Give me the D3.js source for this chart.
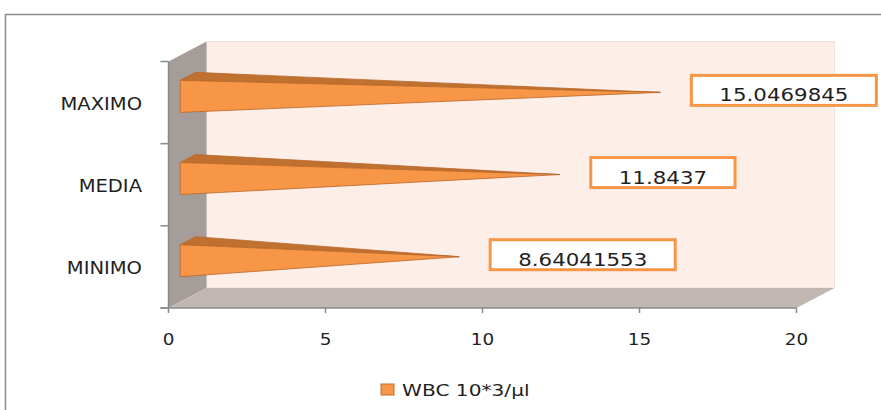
<!DOCTYPE html>
<html>
<head>
<meta charset="utf-8">
<script src="https://cdn.jsdelivr.net/npm/d3@7/dist/d3.min.js"></script>
<style>
  html, body { margin: 0; padding: 0; background: #fff; }
  svg { display: block; }
  text { font-family: "DejaVu Sans", sans-serif; fill: #1f1f1f; }
</style>
</head>
<body>
<svg id="chart" width="881" height="410"></svg>
<script>
// WBC 10*3/µl summary values
const categories = ["MINIMO", "MEDIA", "MAXIMO"];
const values = [8.64041553, 11.8437, 15.0469845];
const valueLabels = ["8.64041553", "11.8437", "15.0469845"];
const xTicks = [0, 5, 10, 15, 20];
const seriesName = "WBC 10*3/\u00b5l";

(function () {
const svg = d3.select("#chart");

// plot box (front plane) and oblique depth offset of the 3D walls
const plotLeft = 168.5, plotRight = 796.5, plotTop = 61.5, plotBottom = 308;
const depthX = 38, depthY = 20;

const x = d3.scaleLinear().domain([0, 20]).range([plotLeft, plotRight]);
const y = d3.scaleBand().domain(categories).range([plotBottom, plotTop]);

// project a point given value, front-plane y and depth fraction (0 = front, 1 = back)
const P = (v, fy, d) => [x(v) + d * depthX, fy - d * depthY];

const orange = "#f79646", orangeDark = "#c0712f", orangeEdge = "#b9672a";

// chart frame
svg.append("rect")
  .attr("x", 5.5).attr("y", 14.5).attr("width", 900).attr("height", 420)
  .attr("fill", "#fff").attr("stroke", "#8c8c8c").attr("stroke-width", 1.5);

// back wall
const bw = [P(0, plotTop, 1), P(20, plotTop, 1), P(20, plotBottom, 1), P(0, plotBottom, 1)];
svg.append("polygon").attr("points", bw.join(" "))
  .attr("fill", "#fdeee8").attr("stroke", "#e6dcd8").attr("stroke-width", 0.8);

// side wall
const sw = [P(0, plotTop, 0), P(0, plotTop, 1), P(0, plotBottom, 1), P(0, plotBottom, 0)];
svg.append("polygon").attr("points", sw.join(" "))
  .attr("fill", "#a59d99");

// floor
const fl = [P(0, plotBottom, 0), P(20, plotBottom, 0), P(20, plotBottom, 1), P(0, plotBottom, 1)];
svg.append("polygon").attr("points", fl.join(" "))
  .attr("fill", "#c1b6b2");

// axes
const axisCol = "#8a8a8a";
svg.append("line").attr("x1", plotLeft).attr("x2", plotLeft).attr("y1", plotTop).attr("y2", plotBottom)
  .attr("stroke", axisCol).attr("stroke-width", 1.5);
svg.append("line").attr("x1", plotLeft - 8).attr("x2", plotRight).attr("y1", plotBottom).attr("y2", plotBottom)
  .attr("stroke", axisCol).attr("stroke-width", 1.5);

// category boundary ticks on the y axis
const yEdges = categories.map(c => y(c)).concat([plotBottom]);
svg.selectAll(".ytick").data(yEdges).enter().append("line")
  .attr("x1", plotLeft - 8).attr("x2", plotLeft).attr("y1", d => d).attr("y2", d => d)
  .attr("stroke", axisCol).attr("stroke-width", 1.5);

// x ticks
svg.selectAll(".xtick").data(xTicks).enter().append("line")
  .attr("x1", d => x(d)).attr("x2", d => x(d)).attr("y1", plotBottom).attr("y2", plotBottom + 5)
  .attr("stroke", axisCol).attr("stroke-width", 1.5);

// horizontally stretched text helper
function stretchedText(g, tx, ty, str, size, sx, anchor) {
  return g.append("text")
    .attr("transform", `translate(${tx},${ty}) scale(${sx},1)`)
    .attr("text-anchor", anchor)
    .attr("font-size", size)
    .text(str);
}

xTicks.forEach(t => stretchedText(svg, x(t), 345, String(t), 16, 1.15, "middle"));

categories.forEach(c => {
  stretchedText(svg, 142, y(c) + y.bandwidth() / 2 + 7.5, c, 17, 1.15, "end");
});

// pyramid bars
const barHalf = y.bandwidth() * 0.195;
const d0 = 0.31, d1 = 0.71, dm = (d0 + d1) / 2;
const bars = svg.append("g");
const labels = svg.append("g");

categories.forEach((c, i) => {
  const cy = y(c) + y.bandwidth() / 2;
  const v = values[i];
  const fTop = P(0, cy - barHalf, d0);
  const fBot = P(0, cy + barHalf, d0);
  const bTop = P(0, cy - barHalf, d1);
  const tip = P(v, cy, dm);

  bars.append("polygon").attr("points", [fTop, bTop, tip].join(" "))
    .attr("fill", orangeDark).attr("stroke", orangeEdge).attr("stroke-width", 0.8)
    .attr("stroke-linejoin", "round");
  bars.append("polygon").attr("points", [fTop, fBot, tip].join(" "))
    .attr("fill", orange).attr("stroke", orangeEdge).attr("stroke-width", 0.8)
    .attr("stroke-linejoin", "round");

  // value label box
  const sx = 1.22, pad = 28, bh = 30;
  const bx = tip[0] + 31, bcy = tip[1] - 2;
  const box = labels.append("rect");
  const t = stretchedText(labels, 0, bcy + bh / 2 - 4, valueLabels[i], 17.5, sx, "middle");
  const tw = t.node().getComputedTextLength() * sx;
  const bwid = tw + pad * 2;
  box.attr("x", bx).attr("y", bcy - bh / 2).attr("width", bwid).attr("height", bh)
    .attr("fill", "#fff").attr("stroke", orange).attr("stroke-width", 3);
  t.attr("transform", `translate(${bx + bwid / 2},${bcy + bh / 2 - 4}) scale(${sx},1)`);
});

// legend
const lg = svg.append("g");
lg.append("rect").attr("x", 381).attr("y", 384).attr("width", 13).attr("height", 11)
  .attr("fill", orange).attr("stroke", orangeDark).attr("stroke-width", 1);
stretchedText(lg, 402, 396, seriesName, 15.5, 1.3, "start");
})();
</script>
</body>
</html>
